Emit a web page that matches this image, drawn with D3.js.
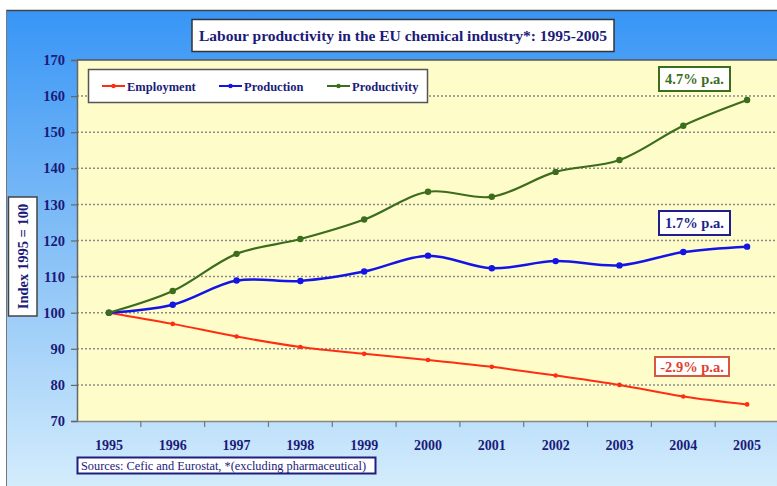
<!DOCTYPE html>
<html>
<head>
<meta charset="utf-8">
<script src="https://cdn.jsdelivr.net/npm/d3@7"></script>
<style>
  body { margin: 0; background: #fff; }
  svg { display: block; }
  text { font-family: "Liberation Serif", "Times New Roman", serif; }
</style>
</head>
<body>
<div id="chart"></div>
<script>
// chart data
var years = ["1995", "1996", "1997", "1998", "1999", "2000", "2001", "2002", "2003", "2004", "2005"];
var employment = [100, 96.9, 93.4, 90.5, 88.6, 86.9, 85.0, 82.6, 80.0, 76.8, 74.6];
var production = [100, 102.2, 108.9, 108.8, 111.4, 115.8, 112.3, 114.3, 113.1, 116.8, 118.3];
var productivity = [100, 106.0, 116.3, 120.4, 125.8, 133.5, 132.1, 139.0, 142.3, 151.8, 158.9];
var yTicks = [70, 80, 90, 100, 110, 120, 130, 140, 150, 160, 170];

var seriesNames = ["Employment", "Production", "Productivity"];
var seriesColors = ["#ff2d12", "#1414e6", "#3b6d1d"];
var rates = ["-2.9% p.a.", "1.7% p.a.", "4.7% p.a."];

var W = 777, H = 486;
var navy = "#1b1b7a";

var svg = d3.select("#chart").append("svg")
  .attr("width", W)
  .attr("height", H);

// background gradient
var defs = svg.append("defs");
var grad = defs.append("linearGradient")
  .attr("id", "bg")
  .attr("x1", 0).attr("y1", 0).attr("x2", 0).attr("y2", 1);
grad.append("stop").attr("offset", "0%").attr("stop-color", "#3795f6");
grad.append("stop").attr("offset", "45%").attr("stop-color", "#7fbcf6");
grad.append("stop").attr("offset", "100%").attr("stop-color", "#d3ecfc");

svg.append("rect")
  .attr("x", 6).attr("y", 10)
  .attr("width", W - 6).attr("height", H - 10)
  .attr("fill", "url(#bg)");
svg.append("line")
  .attr("x1", 6).attr("x2", W).attr("y1", 10.5).attr("y2", 10.5)
  .attr("stroke", "#444").attr("stroke-width", 1.5);
svg.append("line")
  .attr("x1", 6.5).attr("x2", 6.5).attr("y1", 10).attr("y2", H)
  .attr("stroke", "#777").attr("stroke-width", 1);

// scales
var plotL = 77, plotR = 779, plotT = 60, plotB = 421;
var x = d3.scaleBand().domain(years).range([plotL, plotR]);
var y = d3.scaleLinear().domain([70, 170]).range([plotB, plotT]);
var cx = function(d, i) { return x(years[i]) + x.bandwidth() / 2; };

// plot area
svg.append("rect")
  .attr("x", plotL).attr("y", plotT)
  .attr("width", plotR - plotL).attr("height", plotB - plotT)
  .attr("fill", "#fefdc9");

// gridlines
svg.append("g")
  .selectAll("line")
  .data(yTicks.filter(function(t) { return t > 70 && t < 170; }))
  .enter().append("line")
  .attr("x1", plotL).attr("x2", plotR)
  .attr("y1", function(d) { return y(d); })
  .attr("y2", function(d) { return y(d); })
  .attr("stroke", "#8a8a8a")
  .attr("stroke-width", 1.5)
  .attr("stroke-dasharray", "2,2");

svg.append("line")
  .attr("x1", plotL).attr("x2", plotR).attr("y1", plotT).attr("y2", plotT)
  .attr("stroke", "#555").attr("stroke-width", 1.5);

// y axis
var yAxis = svg.append("g")
  .attr("transform", "translate(" + plotL + ",0)")
  .call(d3.axisLeft(y).tickValues(yTicks).tickSize(6).tickPadding(6));
yAxis.select(".domain").attr("stroke", "#666").attr("stroke-width", 1.5);
yAxis.selectAll(".tick line").attr("stroke", "#666").attr("stroke-width", 1.2);
yAxis.selectAll(".tick text")
  .attr("fill", navy)
  .style("font-family", "Liberation Serif")
  .style("font-size", "14.5px")
  .style("font-weight", "bold");

// x axis
var xAxis = svg.append("g")
  .attr("transform", "translate(0," + plotB + ")")
  .call(d3.axisBottom(x).tickSize(0).tickPadding(19));
xAxis.select(".domain").attr("stroke", "#888").attr("stroke-width", 1.5);
xAxis.selectAll(".tick text")
  .attr("fill", navy)
  .style("font-family", "Liberation Serif")
  .style("font-size", "14px")
  .style("font-weight", "bold");
svg.append("g")
  .selectAll("line")
  .data(years.slice(1))
  .enter().append("line")
  .attr("x1", function(d) { return x(d); })
  .attr("x2", function(d) { return x(d); })
  .attr("y1", plotB).attr("y2", plotB + 6)
  .attr("stroke", "#777").attr("stroke-width", 1.2);

// lines
var line = d3.line()
  .x(cx)
  .y(function(d) { return y(d); })
  .curve(d3.curveCatmullRom.alpha(0.5));

var allSeries = [employment, production, productivity];
var widths = [2, 2.5, 2.2];

allSeries.forEach(function(s, k) {
  svg.append("path")
    .datum(s)
    .attr("d", line)
    .attr("fill", "none")
    .attr("stroke", seriesColors[k])
    .attr("stroke-width", widths[k]);
  svg.append("g")
    .selectAll("circle")
    .data(s)
    .enter().append("circle")
    .attr("cx", cx)
    .attr("cy", function(d) { return y(d); })
    .attr("r", k == 0 ? 2.3 : 3.2)
    .attr("fill", seriesColors[k]);
});

// legend
var legend = svg.append("g");
legend.append("rect")
  .attr("x", 88.5).attr("y", 69.5).attr("width", 339).attr("height", 33)
  .attr("fill", "#fff").attr("stroke", "#555").attr("stroke-width", 1.5);
var legX = [102, 219, 327];
seriesNames.forEach(function(n, k) {
  legend.append("line")
    .attr("x1", legX[k]).attr("x2", legX[k] + 23)
    .attr("y1", 86).attr("y2", 86)
    .attr("stroke", seriesColors[k]).attr("stroke-width", 2);
  legend.append("circle")
    .attr("cx", legX[k] + 11.5).attr("cy", 86).attr("r", 2.2)
    .attr("fill", seriesColors[k]);
  legend.append("text")
    .attr("x", legX[k] + 25).attr("y", 90.5)
    .attr("fill", navy)
    .style("font-size", "12.5px")
    .style("font-weight", "bold")
    .text(n);
});

// growth rate labels
var rateBoxes = [
  {x: 655, y: 357, w: 74, h: 19, text: "#e0402c", border: "#d8583f"},
  {x: 659, y: 211, w: 71, h: 24, text: "#1e1e8c", border: "#1e1e8c"},
  {x: 659, y: 67, w: 71, h: 24, text: "#3b6d1d", border: "#3b6d1d"}
];
rateBoxes.forEach(function(b, k) {
  svg.append("rect")
    .attr("x", b.x).attr("y", b.y).attr("width", b.w).attr("height", b.h)
    .attr("fill", "#fff").attr("stroke", b.border).attr("stroke-width", 2);
  svg.append("text")
    .attr("x", b.x + b.w / 2).attr("y", b.y + b.h / 2 + 5)
    .attr("text-anchor", "middle")
    .attr("fill", b.text)
    .style("font-size", "14.5px")
    .style("font-weight", "bold")
    .text(rates[k]);
});

// title
svg.append("rect")
  .attr("x", 192).attr("y", 19.5).attr("width", 422).attr("height", 32)
  .attr("fill", "#fff").attr("stroke", "#333").attr("stroke-width", 1.5);
svg.append("text")
  .attr("x", 403).attr("y", 41)
  .attr("text-anchor", "middle")
  .attr("fill", navy)
  .style("font-size", "15.5px")
  .style("font-weight", "bold")
  .text("Labour productivity in the EU chemical industry*:  1995-2005");

// y axis title
svg.append("rect")
  .attr("x", 8.5).attr("y", 197).attr("width", 28.5).attr("height", 119)
  .attr("fill", "#fff").attr("stroke", "#444").attr("stroke-width", 1.5);
svg.append("text")
  .attr("transform", "translate(27.5,256.5) rotate(-90)")
  .attr("text-anchor", "middle")
  .attr("fill", navy)
  .style("font-size", "14.5px")
  .style("font-weight", "bold")
  .text("Index 1995 = 100");

// sources
svg.append("rect")
  .attr("x", 77.5).attr("y", 457.5).attr("width", 298).attr("height", 16)
  .attr("fill", "#fff").attr("stroke", "#1e1e80").attr("stroke-width", 2);
svg.append("text")
  .attr("x", 81).attr("y", 469.5)
  .attr("fill", navy)
  .attr("textLength", 285)
  .attr("lengthAdjust", "spacingAndGlyphs")
  .style("font-size", "12px")
  .text("Sources:  Cefic and Eurostat, *(excluding pharmaceutical)");
</script>
</body>
</html>
